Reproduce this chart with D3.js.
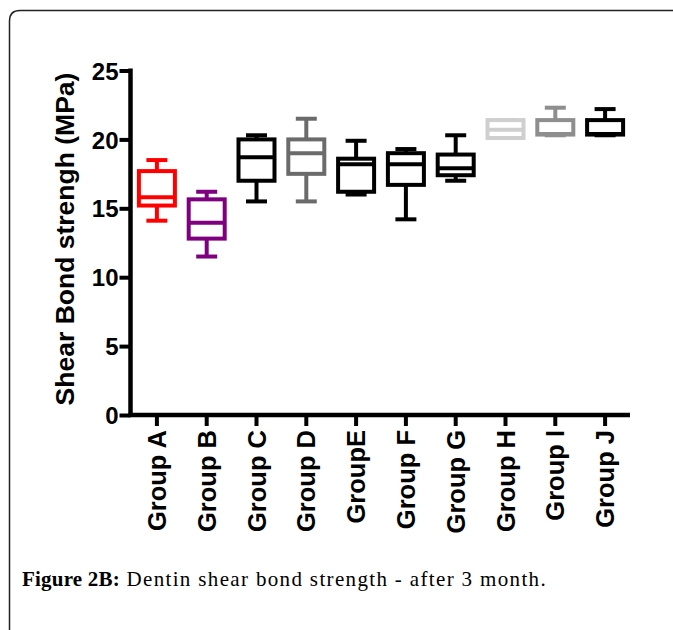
<!DOCTYPE html>
<html>
<head>
<meta charset="utf-8">
<script src="https://cdn.jsdelivr.net/npm/d3@7"></script>
<style>
  html, body { margin: 0; padding: 0; background: #fff; }
  svg { display: block; }
</style>
</head>
<body>
<svg id="chart" width="673" height="630"></svg>
<script>
// ---- data ----
const categories = ["Group A","Group B","Group C","Group D","GroupE","Group F","Group G","Group H","Group I","Group J"];
const mins    = [14.1, 11.5, 15.5, 15.5, 16.0, 14.2, 17.0, 20.1, 20.3, 20.3];
const q1s     = [15.2, 12.8, 17.0, 17.5, 16.2, 16.7, 17.4, 20.1, 20.35, 20.35];
const medians = [15.8, 13.95, 18.7, 19.0, 18.2, 18.2, 17.9, 20.7, 20.4, 20.4];
const q3s     = [17.7, 15.65, 20.0, 20.0, 18.6, 19.0, 18.9, 21.4, 21.4, 21.4];
const maxs    = [18.5, 16.2, 20.3, 21.5, 19.9, 19.3, 20.3, 21.4, 22.3, 22.2];
const colors  = ["#ff0000","#7f007f","#000000","#6b6b6b","#000000","#000000","#000000","#cfcfcf","#8e8e8e","#000000"];
const yTicks  = [0, 5, 10, 15, 20, 25];
const yTitle  = "Shear Bond strengh (MPa)";
const captionBold = "Figure 2B:";
const captionText = " Dentin shear bond strength - after 3 month.";

const svg = d3.select("#chart");

// frame border with rounded top-left corner
svg.append("path")
  .attr("d", "M9.5,630 L9.5,21 Q9.5,10.5 20,10.5 L673,10.5")
  .attr("fill", "none").attr("stroke", "#222").attr("stroke-width", 1.5);

const x = d3.scaleBand().domain(categories).range([132, 630]).paddingInner(0).paddingOuter(0);
const y = d3.scaleLinear().domain([0, 25]).range([415, 70.5]);

const boxW = 36, capW = 21, sw = 4;

const data = categories.map((c, i) => ({
  c, min: mins[i], q1: q1s[i], med: medians[i], q3: q3s[i], max: maxs[i], color: colors[i]
}));

// boxes
const g = svg.append("g");
const bx = g.selectAll("g.box").data(data).join("g").attr("class", "box")
  .attr("transform", d => `translate(${x(d.c) + x.bandwidth() / 2},0)`)
  .attr("stroke", d => d.color).attr("stroke-width", sw).attr("fill", "none");

bx.append("line").attr("x1", 0).attr("x2", 0).attr("y1", d => y(d.q3)).attr("y2", d => y(d.max));
bx.append("line").attr("x1", 0).attr("x2", 0).attr("y1", d => y(d.q1)).attr("y2", d => y(d.min));
bx.append("line").attr("x1", -capW / 2).attr("x2", capW / 2).attr("y1", d => y(d.max)).attr("y2", d => y(d.max));
bx.append("line").attr("x1", -capW / 2).attr("x2", capW / 2).attr("y1", d => y(d.min)).attr("y2", d => y(d.min));
bx.append("rect").attr("x", -boxW / 2).attr("width", boxW)
  .attr("y", d => y(d.q3)).attr("height", d => Math.max(0.1, y(d.q1) - y(d.q3)))
  .attr("fill", "#fff");
bx.append("line").attr("x1", -boxW / 2).attr("x2", boxW / 2).attr("y1", d => y(d.med)).attr("y2", d => y(d.med));

// y axis
const yAxis = svg.append("g").attr("transform", "translate(130.5,0)")
  .call(d3.axisLeft(y).tickValues(yTicks).tickSize(11).tickSizeOuter(0).tickPadding(1));
yAxis.select(".domain").attr("stroke", "#000").attr("stroke-width", 4.5)
  .attr("d", `M0,${y(25) - 2}V${y(0) + 2}`);
yAxis.selectAll(".tick line").attr("stroke", "#000").attr("stroke-width", 4);
yAxis.selectAll(".tick text")
  .attr("font-family", "Liberation Sans, Arial, sans-serif")
  .attr("font-weight", "bold").attr("font-size", 24).attr("fill", "#000")
  .attr("dy", "0.36em");

// x axis
const xAxis = svg.append("g").attr("transform", `translate(0,${y(0)})`)
  .call(d3.axisBottom(x).tickSize(11).tickSizeOuter(0).tickPadding(0));
xAxis.select(".domain").attr("stroke", "#000").attr("stroke-width", 4.5)
  .attr("d", `M128.5,0H630`);
xAxis.selectAll(".tick line").attr("stroke", "#000").attr("stroke-width", 4);
xAxis.selectAll(".tick text")
  .attr("font-family", "Liberation Sans, Arial, sans-serif")
  .attr("font-weight", "bold").attr("font-size", 25.5).attr("fill", "#000")
  .attr("text-anchor", "end")
  .attr("transform", "rotate(-90)")
  .attr("x", -15).attr("y", 0).attr("dy", "0.36em");

// y title
svg.append("text")
  .attr("transform", "translate(74,239) rotate(-90)")
  .attr("text-anchor", "middle")
  .attr("font-family", "Liberation Sans, Arial, sans-serif")
  .attr("font-weight", "bold").attr("font-size", 26.5).attr("fill", "#000")
  .text(yTitle);

// caption
const cap = svg.append("text").attr("x", 22).attr("y", 586)
  .attr("font-family", "Liberation Serif, 'Times New Roman', serif")
  .attr("font-size", 21).attr("fill", "#000");
cap.append("tspan").attr("font-weight", "bold").attr("letter-spacing", 0.2).text(captionBold);
const reg = cap.append("tspan").attr("font-size", 21).text(captionText);
// stretch the regular part with letter spacing so the caption ends where the reference does
const targetEnd = 547;
const curEnd = 22 + cap.node().getComputedTextLength();
const nChars = captionText.length;
const ls = Math.max(0, (targetEnd - curEnd) / nChars);
reg.attr("letter-spacing", ls);
</script>
</body>
</html>
